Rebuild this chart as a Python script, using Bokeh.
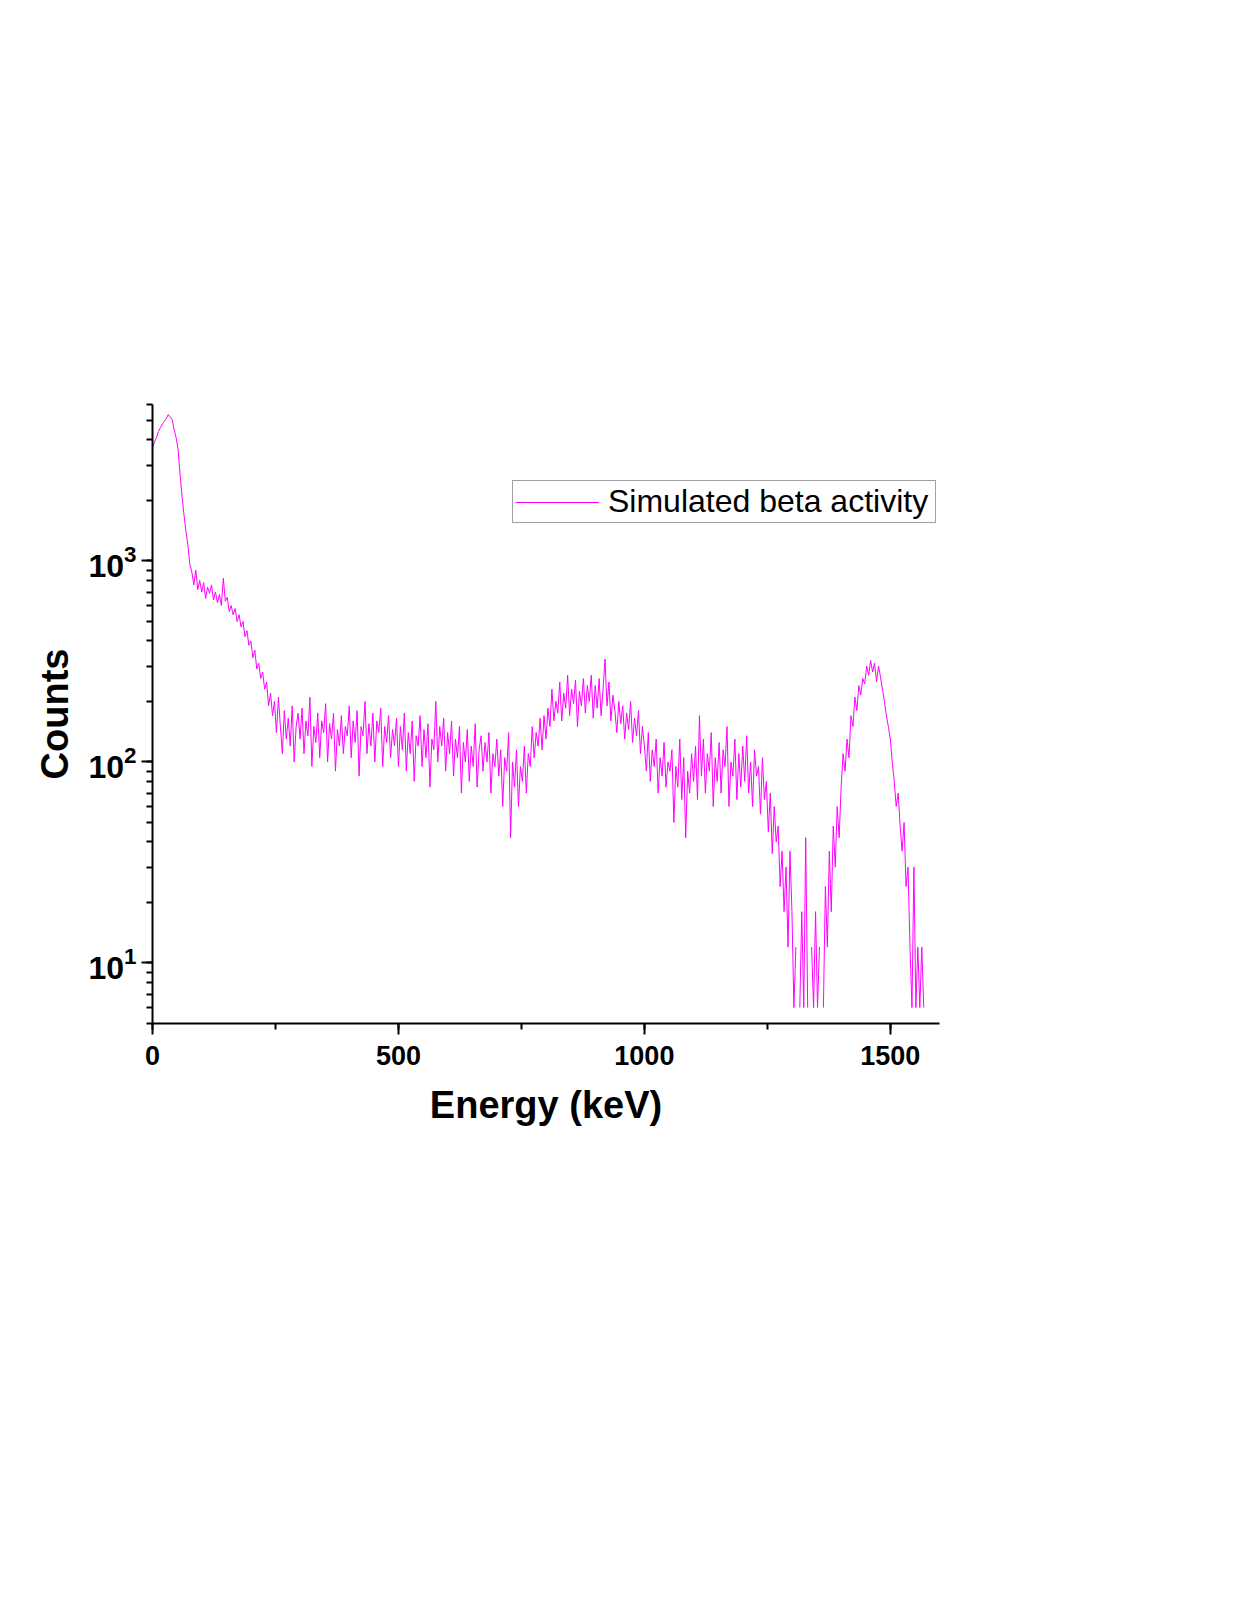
import numpy as np
from bokeh.plotting import figure
from bokeh.models import Legend, LegendItem, SingleIntervalTicker, LogTicker, Range1d, ColumnDataSource
from bokeh.embed import file_html
from bokeh.resources import INLINE

nan = float("nan")

# ---- data (4 keV bins) ----
bin_width_kev = 4
series_name = "Simulated beta activity"
x_label = "Energy (keV)"
y_label = "Counts"
x_ticks = [0, 500, 1000, 1500]

counts = [
    # 0 - 96 keV
    3650, 3900, 4100, 4400, 4600, 4800, 4950, 5100, 5350, 5200, 5050, 4500, 4100, 3600, 2700, 2100, 1700, 1400, 1200, 960, 880, 760, 900, 720, 800,
    # 100 - 196
    700, 780, 650, 740, 690, 760, 640, 700, 620, 680, 600, 820, 630, 660, 560, 600, 540, 580, 500, 540, 470, 500, 420, 450, 380,
    # 200 - 296
    400, 330, 360, 290, 310, 260, 280, 230, 250, 190, 220, 170, 200, 140, 210, 150, 110, 180, 130, 165, 120, 190, 100, 150, 175,
    # 300 - 396
    130, 185, 110, 160, 135, 210, 95, 150, 125, 175, 105, 160, 140, 195, 100, 155, 130, 175, 90, 145, 120, 170, 110, 150, 135,
    # 400 - 496
    190, 105, 160, 125, 180, 85, 150, 135, 200, 110, 155, 120, 175, 100, 160, 140, 185, 95, 150, 125, 170, 105, 145, 120, 165,
    # 500 - 596
    95, 150, 115, 175, 90, 140, 110, 160, 80, 135, 120, 170, 95, 145, 105, 155, 75, 130, 115, 200, 100, 150, 120, 165, 90,
    # 600 - 696
    140, 110, 160, 85, 130, 105, 150, 70, 125, 100, 145, 80, 120, 95, 155, 75, 115, 135, 90, 125, 100, 140, 70, 110, 95,
    # 700 - 796
    130, 85, 115, 60, 105, 90, 140, 42, 100, 75, 115, 60, 95, 80, 120, 70, 110, 95, 150, 105, 140, 120, 165, 115, 170,
    # 800 - 896
    130, 185, 150, 230, 160, 200, 175, 250, 160, 220, 185, 270, 170, 230, 195, 255, 150, 225, 190, 260, 175, 240, 200, 270, 165,
    # 900 - 996
    240, 185, 260, 170, 230, 325, 190, 250, 160, 215, 180, 140, 200, 155, 190, 130, 175, 145, 200, 125, 165, 135, 180, 110, 150,
    # 1000 - 1096
    120, 90, 140, 80, 115, 95, 130, 70, 105, 85, 125, 75, 100, 90, 115, 50, 95, 75, 130, 65, 105, 42, 90, 70, 110,
    # 1100 - 1196
    80, 120, 65, 170, 85, 130, 70, 110, 90, 140, 60, 105, 80, 125, 70, 115, 95, 150, 60, 100, 85, 130, 65, 110, 75,
    # 1200 - 1296
    120, 80, 135, 70, 100, 60, 115, 85, 95, 55, 105, 65, 80, 45, 70, 35, 60, 40, 48, 24, 36, 18, 30, 12, 36,
    # 1300 - 1396
    18, 6, 12, nan, 6, 18, 6, 42, 6, nan, 12, 6, 18, 6, 12, nan, 6, 24, 12, 36, 18, 48, 30, 60, 42,
    # 1400 - 1496
    75, 110, 90, 130, 105, 170, 150, 210, 180, 240, 215, 260, 245, 300, 270, 320, 280, 310, 250, 300, 265, 230, 200, 170, 150,
    # 1500 - 1568
    130, 100, 80, 60, 70, 48, 36, 50, 24, 30, 12, 6, 30, 6, 12, 6, 12, 6,
]
energy_kev = [i * bin_width_kev for i in range(len(counts))]

source = ColumnDataSource(data=dict(energy=energy_kev, counts=np.array(counts, dtype=float)))

p = figure(
    frame_width=787, frame_height=619,
    min_border_left=152, min_border_top=404, min_border_right=291, min_border_bottom=180,
    x_range=Range1d(0, 1600), y_range=Range1d(5, 6000),
    y_axis_type="log",
    output_backend="svg", toolbar_location=None,
    background_fill_color="white", border_fill_color="white",
)
p.outline_line_color = None
p.grid.visible = False

r = p.line("energy", "counts", source=source, line_color="#ff00ff", line_width=1)

# axes styling
for ax in (p.xaxis[0], p.yaxis[0]):
    ax.axis_line_color = "black"
    ax.axis_line_width = 2
    ax.major_tick_line_color = "black"
    ax.major_tick_line_width = 2
    ax.minor_tick_line_color = "black"
    ax.minor_tick_line_width = 2
    ax.major_tick_in = 0
    ax.major_tick_out = 11
    ax.minor_tick_in = 0
    ax.minor_tick_out = 6
    ax.major_label_text_color = "black"
    ax.major_label_text_font = "Liberation Sans"
    ax.major_label_text_font_style = "bold"
    ax.axis_label_text_font = "Liberation Sans"
    ax.axis_label_text_font_style = "bold"
    ax.axis_label_text_font_size = "38px"
    ax.axis_label_text_color = "black"

p.xaxis[0].ticker = SingleIntervalTicker(interval=500, num_minor_ticks=2)
p.xaxis[0].major_label_text_font_size = "27px"
p.xaxis[0].major_label_standoff = 11
p.xaxis[0].axis_label = x_label
p.xaxis[0].axis_label_standoff = 16

p.yaxis[0].ticker = LogTicker(num_minor_ticks=10)
p.yaxis[0].major_label_text_font_size = "32px"
p.yaxis[0].major_label_standoff = 5
p.yaxis[0].axis_label = y_label
p.yaxis[0].axis_label_standoff = 9

legend = Legend(
    items=[LegendItem(label=series_name, renderers=[r])],
    location=(360, 500),
    border_line_color="#444444", border_line_width=1,
    background_fill_color="white", background_fill_alpha=1,
    label_text_font="Liberation Sans", label_text_font_size="32px", label_text_color="black",
    glyph_width=84, glyph_height=30, label_standoff=9, label_width=325,
    padding=2, spacing=0, margin=0,
)
p.add_layout(legend)

open("out.html", "w").write(file_html(p, INLINE))
